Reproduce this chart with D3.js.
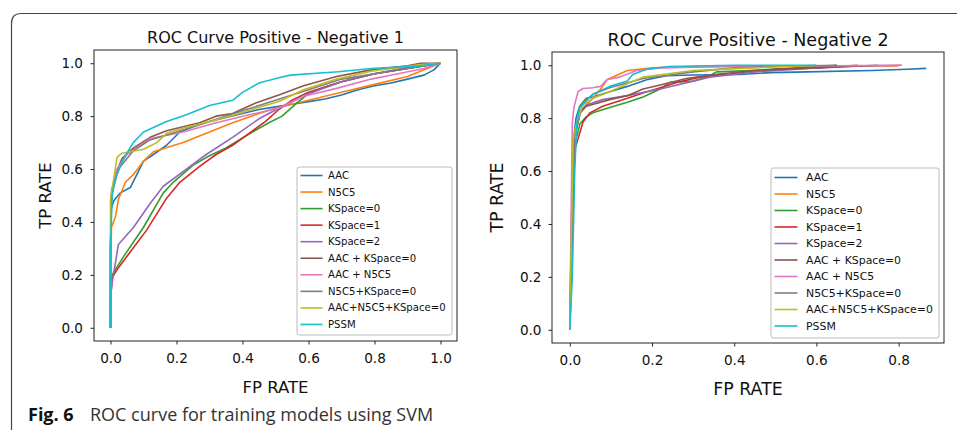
<!DOCTYPE html>
<html>
<head>
<meta charset="utf-8">
<script src="https://cdn.jsdelivr.net/npm/d3@7"></script>
<style>
  body { margin: 0; background: #fff; }
  svg text { font-family: "DejaVu Sans", sans-serif; fill: #111; }
</style>
</head>
<body>
<svg></svg>
<script>
// legend labels, same order for both panels
const seriesNames = [
  "AAC", "N5C5", "KSpace=0", "KSpace=1", "KSpace=2",
  "AAC + KSpace=0", "AAC + N5C5", "N5C5+KSpace=0", "AAC+N5C5+KSpace=0", "PSSM",
];
const colours = d3.schemeCategory10;

const xTicks1 = [0, 0.2, 0.4, 0.6, 0.8, 1.0];
const xTicks2 = [0, 0.2, 0.4, 0.6, 0.8];
const yTicks = [0, 0.2, 0.4, 0.6, 0.8, 1.0];

// ---- Positive - Negative 1 : [FP rate, TP rate]
const n1AAC = [[0,0],[0,0.2],[0.002,0.45],[0.01,0.48],[0.03,0.51],[0.06,0.53],[0.08,0.58],[0.1,0.63],[0.13,0.655],[0.17,0.69],[0.21,0.74],[0.25,0.76],[0.3,0.78],[0.35,0.795],[0.4,0.81],[0.45,0.825],[0.5,0.835],[0.55,0.845],[0.6,0.855],[0.65,0.865],[0.7,0.88],[0.75,0.9],[0.8,0.915],[0.85,0.925],[0.9,0.94],[0.95,0.955],[0.98,0.975],[1,1]];
const n1N5C5 = [[0,0],[0,0.2],[0.003,0.38],[0.015,0.42],[0.024,0.485],[0.045,0.55],[0.07,0.58],[0.1,0.63],[0.13,0.665],[0.15,0.673],[0.22,0.7],[0.3,0.74],[0.37,0.775],[0.45,0.81],[0.5,0.83],[0.55,0.845],[0.6,0.86],[0.7,0.89],[0.8,0.92],[0.9,0.95],[0.95,0.975],[1,1]];
const n1KS0 = [[0,0],[0,0.1],[0.005,0.2],[0.02,0.23],[0.04,0.27],[0.1,0.38],[0.16,0.51],[0.19,0.55],[0.25,0.615],[0.3,0.65],[0.35,0.68],[0.43,0.74],[0.48,0.775],[0.52,0.8],[0.565,0.85],[0.6,0.885],[0.65,0.91],[0.7,0.93],[0.8,0.96],[0.9,0.98],[1,1]];
const n1KS1 = [[0,0],[0,0.1],[0.005,0.19],[0.02,0.22],[0.05,0.27],[0.11,0.37],[0.17,0.49],[0.21,0.55],[0.27,0.61],[0.32,0.655],[0.37,0.69],[0.42,0.735],[0.47,0.78],[0.51,0.825],[0.55,0.86],[0.6,0.89],[0.7,0.93],[0.8,0.96],[0.9,0.98],[1,1]];
const n1KS2 = [[0,0],[0,0.1],[0.003,0.155],[0.024,0.315],[0.07,0.38],[0.12,0.47],[0.16,0.535],[0.23,0.6],[0.29,0.655],[0.37,0.72],[0.45,0.79],[0.51,0.83],[0.6,0.885],[0.7,0.93],[0.8,0.96],[0.9,0.985],[0.96,0.995],[1,1]];
const n1AACKS0 = [[0,0],[0,0.3],[0.003,0.5],[0.015,0.58],[0.035,0.64],[0.07,0.68],[0.12,0.72],[0.17,0.745],[0.22,0.76],[0.27,0.775],[0.32,0.8],[0.37,0.81],[0.44,0.85],[0.51,0.88],[0.585,0.915],[0.685,0.95],[0.79,0.975],[0.9,0.99],[0.94,1],[1,1]];
const n1AACN5C5 = [[0,0],[0,0.3],[0.003,0.52],[0.02,0.6],[0.05,0.655],[0.12,0.715],[0.22,0.74],[0.32,0.775],[0.42,0.805],[0.51,0.83],[0.585,0.875],[0.685,0.905],[0.79,0.94],[0.89,0.965],[0.95,0.98],[1,1]];
const n1N5C5KS0 = [[0,0],[0,0.3],[0.003,0.5],[0.024,0.6],[0.07,0.67],[0.12,0.71],[0.2,0.74],[0.3,0.78],[0.4,0.82],[0.5,0.86],[0.6,0.9],[0.7,0.94],[0.8,0.96],[0.9,0.98],[1,1]];
const n1All = [[0,0],[0,0.485],[0.02,0.645],[0.035,0.66],[0.1,0.675],[0.14,0.7],[0.17,0.735],[0.22,0.755],[0.32,0.785],[0.39,0.81],[0.44,0.83],[0.51,0.855],[0.585,0.9],[0.685,0.94],[0.79,0.97],[0.94,0.995],[1,1]];
const n1PSSM = [[0,0],[0,0.3],[0.005,0.5],[0.015,0.565],[0.04,0.64],[0.069,0.7],[0.1,0.74],[0.17,0.78],[0.23,0.805],[0.3,0.84],[0.37,0.86],[0.4,0.89],[0.45,0.925],[0.51,0.945],[0.545,0.955],[0.69,0.968],[0.79,0.98],[0.94,0.99],[1,1]];

// ---- Positive - Negative 2
const n2AAC = [[0,0],[0.003,0.3],[0.008,0.7],[0.015,0.8],[0.024,0.845],[0.04,0.875],[0.056,0.88],[0.097,0.9],[0.14,0.92],[0.187,0.945],[0.235,0.96],[0.3,0.963],[0.413,0.965],[0.49,0.972],[0.575,0.975],[0.737,0.98],[0.82,0.985],[0.867,0.988]];
const n2N5C5 = [[0,0],[0.003,0.3],[0.008,0.72],[0.024,0.825],[0.056,0.875],[0.08,0.92],[0.09,0.945],[0.14,0.98],[0.2,0.99],[0.3,0.995],[0.5,0.997],[0.8,0.997]];
const n2KS0 = [[0,0],[0.005,0.3],[0.012,0.7],[0.025,0.78],[0.04,0.805],[0.056,0.82],[0.097,0.84],[0.14,0.86],[0.178,0.88],[0.22,0.91],[0.243,0.935],[0.3,0.94],[0.333,0.955],[0.357,0.975],[0.437,0.98],[0.55,0.99],[0.65,1]];
const n2KS1 = [[0,0],[0.005,0.3],[0.012,0.68],[0.032,0.785],[0.049,0.82],[0.08,0.845],[0.14,0.875],[0.178,0.895],[0.22,0.915],[0.26,0.935],[0.316,0.955],[0.38,0.965],[0.5,0.985],[0.6,0.99],[0.7,1]];
const n2KS2 = [[0,0],[0.004,0.3],[0.01,0.72],[0.025,0.82],[0.04,0.85],[0.08,0.87],[0.14,0.885],[0.22,0.91],[0.3,0.94],[0.34,0.955],[0.45,0.975],[0.6,0.99],[0.7,0.997],[0.807,1]];
const n2AACKS0 = [[0,0],[0.004,0.3],[0.01,0.72],[0.025,0.82],[0.04,0.845],[0.097,0.87],[0.14,0.885],[0.178,0.91],[0.22,0.925],[0.284,0.95],[0.35,0.965],[0.45,0.98],[0.6,0.99],[0.75,1]];
const n2AACN5C5 = [[0,0],[0.002,0.3],[0.006,0.78],[0.01,0.84],[0.02,0.9],[0.032,0.912],[0.056,0.915],[0.075,0.92],[0.09,0.945],[0.12,0.955],[0.163,0.98],[0.22,0.99],[0.4,0.995],[0.807,1]];
const n2N5C5KS0 = [[0,0],[0.004,0.3],[0.01,0.72],[0.032,0.86],[0.056,0.89],[0.097,0.915],[0.178,0.95],[0.3,0.975],[0.4,0.99],[0.5,0.995],[0.65,1]];
const n2All = [[0,0],[0.003,0.3],[0.008,0.72],[0.017,0.785],[0.032,0.85],[0.056,0.875],[0.097,0.9],[0.14,0.93],[0.178,0.955],[0.3,0.98],[0.45,0.99],[0.6,1]];
const n2PSSM = [[0,0],[0.006,0.2],[0.012,0.6],[0.017,0.78],[0.024,0.84],[0.056,0.89],[0.097,0.92],[0.14,0.94],[0.153,0.965],[0.187,0.985],[0.24,0.995],[0.4,1],[0.6,1]];

const panel1 = [n1AAC, n1N5C5, n1KS0, n1KS1, n1KS2, n1AACKS0, n1AACN5C5, n1N5C5KS0, n1All, n1PSSM];
const panel2 = [n2AAC, n2N5C5, n2KS0, n2KS1, n2KS2, n2AACKS0, n2AACN5C5, n2N5C5KS0, n2All, n2PSSM];

const svg = d3.select("svg").attr("width", 957).attr("height", 430);

// figure frame (rounded top-left corner, open at right and bottom)
svg.append("path")
  .attr("d", "M11.5,430 V23.5 Q11.5,13.5 21.5,13.5 H957")
  .attr("fill", "none")
  .attr("stroke", "#444")
  .attr("stroke-width", 1.2);

const drawPanel = (cfg) => {
  const { box, series, xTicks } = cfg;
  const allX = series.flat().map((d) => d[0]);
  const allY = series.flat().map((d) => d[1]);
  const [x0, x1] = d3.extent(allX);
  const [y0, y1] = d3.extent(allY);
  // matplotlib style 5% margins
  const x = d3.scaleLinear()
    .domain([x0 - 0.05 * (x1 - x0), x1 + 0.05 * (x1 - x0)])
    .range([box.l, box.r]);
  const y = d3.scaleLinear()
    .domain([y0 - 0.05 * (y1 - y0), y1 + 0.05 * (y1 - y0)])
    .range([box.b, box.t]);

  const g = svg.append("g");
  const clipId = "clip" + cfg.id;
  svg.append("clipPath").attr("id", clipId)
    .append("rect")
    .attr("x", box.l).attr("y", box.t)
    .attr("width", box.r - box.l).attr("height", box.b - box.t);

  const line = d3.line().x((d) => x(d[0])).y((d) => y(d[1]));

  g.append("g")
    .attr("clip-path", `url(#${clipId})`)
    .selectAll("path")
    .data(series)
    .enter()
    .append("path")
    .attr("d", line)
    .attr("fill", "none")
    .attr("stroke", (d, i) => colours[i])
    .attr("stroke-width", 1.6)
    .attr("stroke-linejoin", "round");

  // axes
  const xAxis = g.append("g")
    .attr("transform", `translate(0,${box.b})`)
    .call(d3.axisBottom(x).tickValues(xTicks).tickSize(3.5).tickPadding(cfg.xPad).tickFormat(d3.format(".1f")));
  const yAxis = g.append("g")
    .attr("transform", `translate(${box.l},0)`)
    .call(d3.axisLeft(y).tickValues(yTicks).tickSize(3.5).tickPadding(cfg.yPad).tickFormat(d3.format(".1f")));
  [xAxis, yAxis].forEach((a) => {
    a.select(".domain").remove();
    a.selectAll("line").attr("stroke", "#222");
    a.selectAll("text")
      .style("font-family", "DejaVu Sans")
      .style("font-size", "13.6px")
      .attr("fill", "#111");
  });

  g.append("rect")
    .attr("x", box.l).attr("y", box.t)
    .attr("width", box.r - box.l).attr("height", box.b - box.t)
    .attr("fill", "none")
    .attr("stroke", "#222")
    .attr("stroke-width", 1);

  const cx = (box.l + box.r) / 2;
  g.append("text")
    .attr("x", cx).attr("y", cfg.titleY)
    .attr("text-anchor", "middle")
    .style("font-size", cfg.titleSize + "px")
    .text(cfg.title);
  g.append("text")
    .attr("x", cx).attr("y", cfg.xLabelY)
    .attr("text-anchor", "middle")
    .style("font-size", cfg.labelSize + "px")
    .text("FP RATE");
  g.append("text")
    .attr("transform", `translate(${cfg.yLabelX},${(box.t + box.b) / 2}) rotate(-90)`)
    .attr("text-anchor", "middle")
    .style("font-size", cfg.labelSize + "px")
    .text("TP RATE");

  // legend
  const lg = cfg.legend;
  g.append("rect")
    .attr("x", lg.x).attr("y", lg.y)
    .attr("width", lg.w).attr("height", lg.h)
    .attr("rx", 2.5)
    .attr("fill", "#fff").attr("fill-opacity", 0.85)
    .attr("stroke", "#bbb");
  const items = g.selectAll("g.item")
    .data(seriesNames)
    .enter()
    .append("g")
    .attr("transform", (d, i) => `translate(0,${lg.first + i * lg.step})`);
  items.append("line")
    .attr("x1", lg.x + 3.5).attr("x2", lg.x + 3.5 + lg.lineW)
    .attr("stroke", (d, i) => colours[i])
    .attr("stroke-width", 1.6);
  items.append("text")
    .attr("x", lg.x + lg.textX)
    .attr("dy", "0.35em")
    .style("font-size", lg.size + "px")
    .text((d) => d);
};

drawPanel({
  id: 1,
  title: "ROC Curve Positive - Negative 1",
  series: panel1,
  xTicks: xTicks1,
  box: { l: 94, t: 50, r: 457, b: 341 },
  xPad: 9, yPad: 7.5,
  titleY: 43, titleSize: 16,
  xLabelY: 393, labelSize: 16.5,
  yLabelX: 51,
  legend: { x: 297, y: 167, w: 155, h: 168, first: 175.5, step: 16.55, lineW: 22, textX: 31, size: 10.1 },
});

drawPanel({
  id: 2,
  title: "ROC Curve Positive - Negative 2",
  series: panel2,
  xTicks: xTicks2,
  box: { l: 552, t: 52, r: 944, b: 343 },
  xPad: 9, yPad: 7,
  titleY: 45.5, titleSize: 17.5,
  xLabelY: 395, labelSize: 17.4,
  yLabelX: 503,
  legend: { x: 771, y: 168, w: 168, h: 170, first: 177.5, step: 16.5, lineW: 23, textX: 35, size: 10.9 },
});

// caption
const cap = svg.append("text")
  .attr("x", 28).attr("y", 421)
  .style("font-family", "'Open Sans', sans-serif")
  .style("font-size", "18px");
cap.append("tspan").style("font-weight", "bold").attr("fill", "#111").text("Fig. 6");
cap.append("tspan").attr("x", 90).attr("fill", "#333").text("ROC curve for training models using SVM");
</script>
</body>
</html>
